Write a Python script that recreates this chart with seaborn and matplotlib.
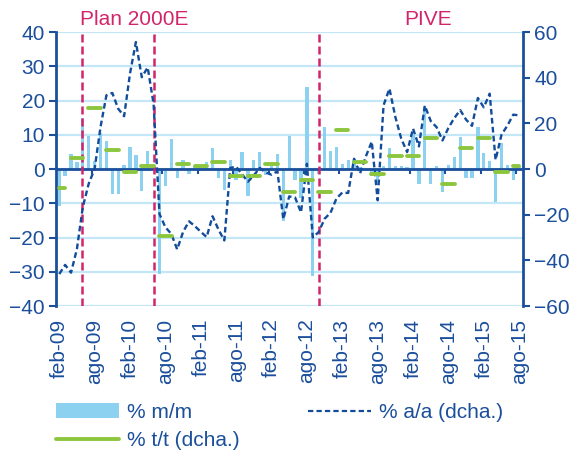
import numpy as np
import pandas as pd
import matplotlib
matplotlib.use("Agg")
import matplotlib.pyplot as plt
import matplotlib.transforms as mtransforms
from matplotlib.lines import Line2D
from matplotlib.patches import Patch
import seaborn as sns

# ---------------- data (feb-09 ... ago-15, monthly) ----------------
mm = [-10.7, -2.0, 4.4, 2.0, 14.8, 9.5, 2.2, 10.5, 8.3, -7.3, -7.3, 1.3,
      6.5, 4.2, -6.3, 5.4, 1.0, -30.7, -5.1, 8.8, -2.6, 2.5, -1.5, 1.0,
      1.0, 1.9, 6.1, -2.5, -6.0, 2.5, -3.1, 4.9, -7.8, 2.5, 4.9, -1.8,
      1.0, 4.3, -15.3, 9.5, -3.2, -8.4, 24.0, -31.2, -1.5, 12.4, 5.4, 6.5,
      1.4, 2.5, 2.5, 0.5, -0.5, -2.0, -4.0, 0.9, 6.0, 0.9, 0.9, 0.5,
      10.0, -4.3, 18.0, -4.5, 0.8, -6.8, 1.3, 3.6, 9.4, -2.6, -2.6, 12.4,
      4.8, 2.4, -9.7, 7.7, 1.3, -3.3, 0.5]

aa = [-46.0, -42.0, -45.4, -35.0, -16.6, -6.4, 0.0, 18.4, 32.3, 33.3, 26.4, 23.1,
      41.8, 55.6, 40.2, 44.5, 28.5, -19.7, -25.5, -28.4, -35.2, -27.6, -22.9, -25.0,
      -27.5, -29.8, -20.7, -26.5, -31.3, 0.5, 1.0, -2.3, -5.6, -2.8, 0.5, -1.5,
      -2.5, -1.0, -22.0, -12.0, -12.5, -19.0, 2.3, -30.0, -27.6, -21.8, -19.2, -13.0,
      -10.3, -10.5, 4.5, -2.0, 5.5, 12.0, -13.7, 27.9, 35.2, 22.8, 13.3, 7.4,
      17.7, 9.9, 27.8, 21.0, 18.3, 12.5, 18.0, 22.3, 25.8, 21.6, 18.9, 31.1,
      27.0, 33.0, 4.0, 15.0, 19.0, 23.8, 23.5]

# quarterly % t/t, first and last month index of each quarter
tt = [-8.3, 4.8, 26.6, 8.2, -1.5, 1.3, -29.3, 2.0, 1.3, 2.9, -3.1, -3.1, 2.0,
      -10.1, -4.8, -10.1, 16.9, 2.9, -2.3, 5.5, 5.5, 13.4, -6.6, 9.2, 13.4, -1.5, 1.3]
q_start = [0, 2, 5, 8, 11, 14, 17, 20, 23, 26, 29, 32, 35, 38, 41, 44, 47, 50, 53,
           56, 59, 62, 65, 68, 71, 74, 77]
q_end = [1, 4, 7, 10, 13, 16, 19, 22, 25, 28, 31, 34, 37, 40, 43, 46, 49, 52, 55,
         58, 61, 64, 67, 70, 73, 76, 78]

tick_labels = ["feb-09", "ago-09", "feb-10", "ago-10", "feb-11", "ago-11", "feb-12",
               "ago-12", "feb-13", "ago-13", "feb-14", "ago-14", "feb-15", "ago-15"]
events = [3.85, 16.06, 44.1]
event_labels = ["Plan 2000E", "PIVE"]
event_label_x = [12.8, 62.6]

# ---------------- style ----------------
sns.set_style("white")
plt.rcParams['font.family'] = ['Liberation Sans', 'DejaVu Sans']
DARK = "#1B4F9C"
LINE = "#124C9A"
LIGHT = "#8DD1F1"
GREEN = "#8CC63F"
RED = "#D2246A"
GRID = "#C4E7F7"
FS = 15

fig = plt.figure(figsize=(5.74, 4.61), dpi=100)
W, H = 574, 461
ax = fig.add_axes([56 / W, 1 - 306 / H, (523 - 56) / W, 274 / H])

idx = np.arange(len(mm))
df = pd.DataFrame({"idx": idx, "mm": mm, "aa": aa})

sns.barplot(data=df, x="idx", y="mm", order=list(idx), color=LIGHT, saturation=1,
            width=0.56, ax=ax, zorder=2, edgecolor='none', linewidth=0)

ax.set_ylim(-40, 40)
ax.set_xlim(-0.55, 78.65)
ax.set_yticks(range(-40, 41, 10))
ax.grid(axis='y', color=GRID, lw=1.6, zorder=0)
ax.grid(axis='x', visible=False)
ax.set_axisbelow(True)
ax.axhline(0, color=DARK, lw=2, zorder=3)
ax.vlines(np.arange(5.5, len(mm), 6), -1.4, 0, color=DARK, lw=1.5, zorder=3)
for ev in events:
    ax.axvline(ev, color=RED, lw=1.8, dashes=(3.2, 1.6), zorder=4)

ax.set_xticks(range(0, len(mm), 6))
ax.set_xticklabels(tick_labels, rotation=90)
ax.tick_params(axis='x', length=0, pad=9, labelsize=FS, labelcolor=DARK)
ax.tick_params(axis='y', direction='out', length=5, width=1.5, color=DARK,
               labelsize=FS, labelcolor=DARK, pad=3)
ax.set_xlabel("")
ax.set_ylabel("")
for s in ["top", "bottom", "right"]:
    ax.spines[s].set_visible(False)
ax.spines["left"].set_color(DARK)
ax.spines["left"].set_linewidth(2)

ax2 = ax.twinx()
sns.lineplot(data=df, x="idx", y="aa", ax=ax2, color=LINE, lw=1.7,
             linestyle=(0, (2.4, 1.4)), zorder=5)
coll = ax2.hlines(tt, np.array(q_start) - 0.05, np.array(q_end) + 0.05,
                  color=GREEN, lw=2.8, zorder=6)
coll.set_capstyle('round')
ax2.set_ylim(-60, 60)
ax2.set_xlim(-0.55, 78.65)
ax2.set_yticks(range(-60, 61, 20))
ax2.tick_params(axis='y', direction='out', length=5, width=1.5, color=DARK,
                labelsize=FS, labelcolor=DARK, pad=3)
ax2.set_ylabel("")
ax2.set_xlabel("")
for s in ["top", "bottom", "left"]:
    ax2.spines[s].set_visible(False)
ax2.spines["right"].set_color(DARK)
ax2.spines["right"].set_linewidth(2)
ax2.grid(False)

trans = mtransforms.blended_transform_factory(ax.transData, ax.transAxes)
for xl, lab in zip(event_label_x, event_labels):
    ax.text(xl, 1.045, lab, transform=trans, ha='center', va='center',
            color=RED, fontsize=FS)

handles = [Patch(facecolor=LIGHT, edgecolor='none', linewidth=0),
           Line2D([], [], color=GREEN, lw=2.8),
           Line2D([], [], color=LINE, lw=1.6, linestyle=(0, (2.4, 1.4)))]
labels = ["% m/m", "% t/t (dcha.)", "% a/a (dcha.)"]
fig.legend(handles, labels, ncol=2, loc='upper left',
           bbox_to_anchor=(56 / W, 1 - 403 / H), frameon=False, fontsize=FS,
           labelcolor=DARK, handlelength=3.0, handletextpad=0.4,
           columnspacing=3.3, labelspacing=0.45, borderpad=0, borderaxespad=0)

fig.savefig("out.png", dpi=100)
